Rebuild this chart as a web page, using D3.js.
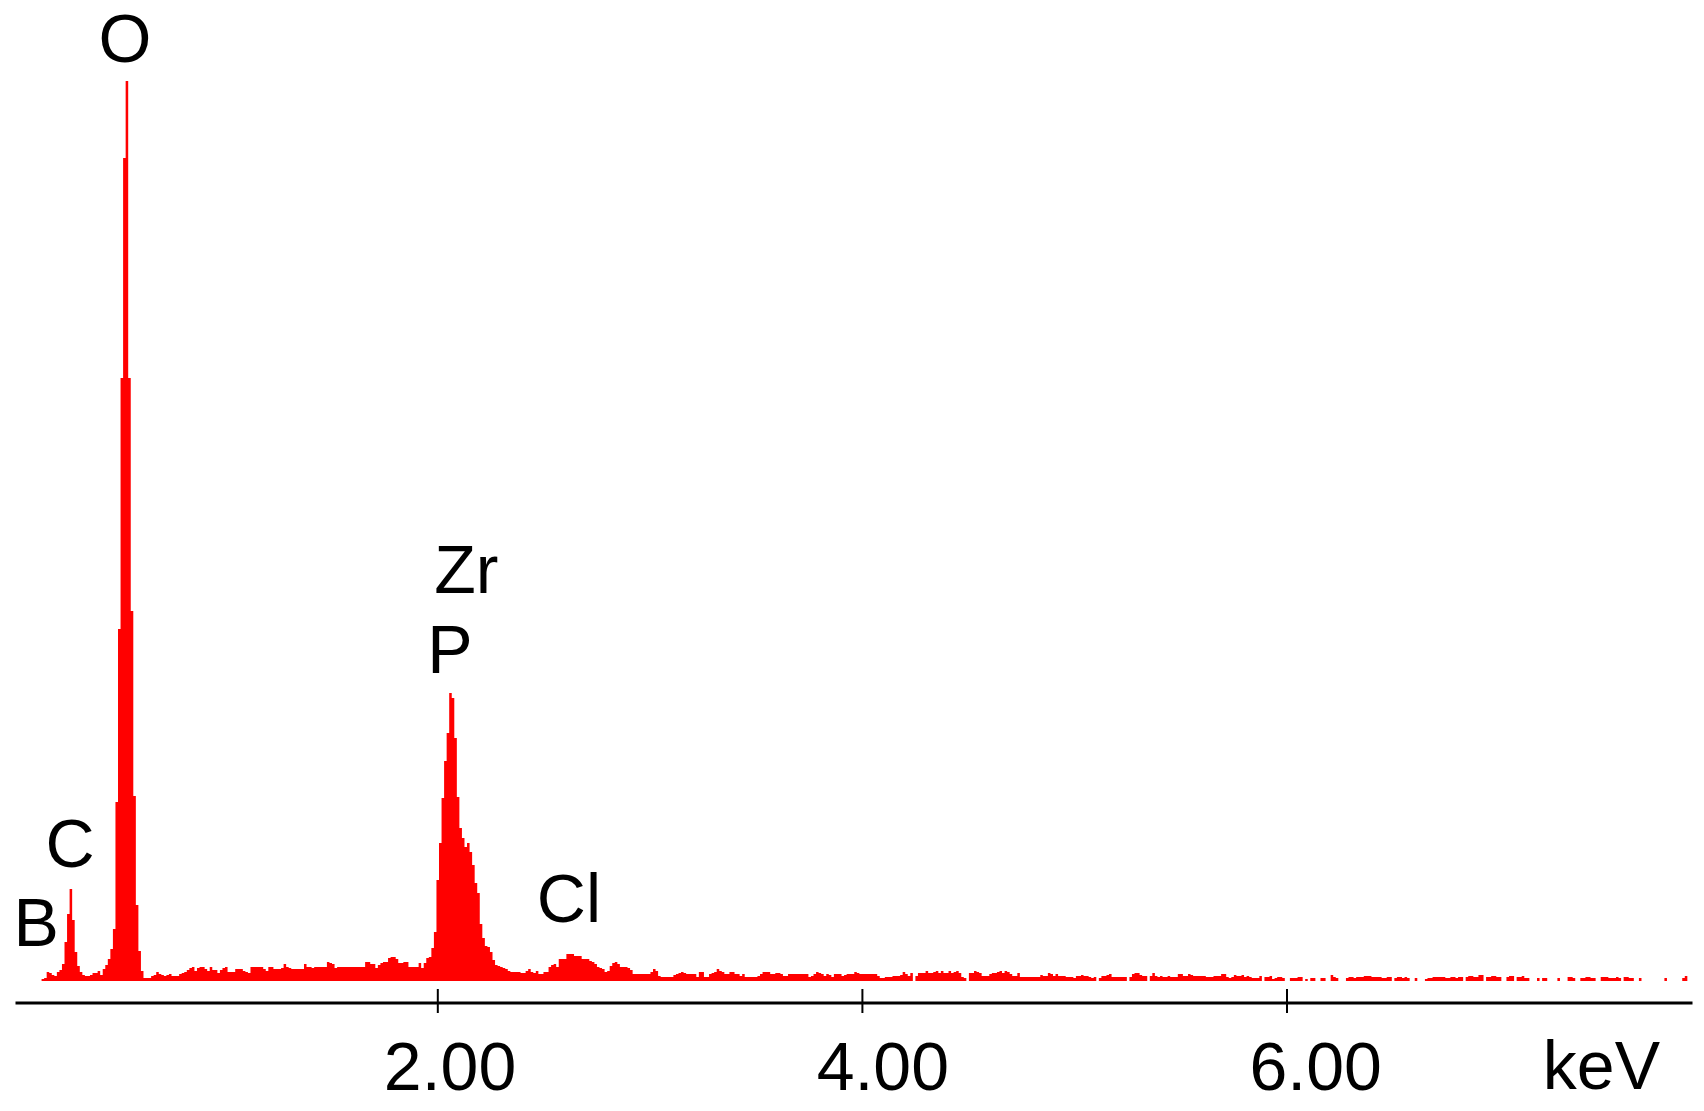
<!DOCTYPE html>
<html>
<head>
<meta charset="utf-8">
<script src="https://cdnjs.cloudflare.com/ajax/libs/d3/7.8.5/d3.min.js"></script>
<style>
  body { margin: 0; background: #fff; }
  text { font-family: "Liberation Sans", Arial, sans-serif; fill: #000; }
</style>
</head>
<body>
<svg width="1704" height="1111"></svg>
<script>
// EDS spectrum, counts per channel
const channelStart = 0.136;   // keV, left edge of first channel
const channelWidth = 0.012;   // keV per channel
const counts = [
  2, 3, 9, 8, 6, 5, 9, 11, 17, 39,            // 0
  67, 92, 61, 29, 15, 9, 6, 5, 5, 6,          // 10
  8, 8, 10, 6, 12, 16, 22, 32, 52, 179,       // 20
  352, 603, 823, 900, 603, 370, 185, 76, 30, 10, // 30
  3, 3, 3, 5, 6, 9, 7, 6, 5, 6,               // 40
  7, 5, 5, 5, 7, 8, 9, 11, 13, 14,            // 50
  10, 13, 14, 14, 12, 10, 14, 11, 11, 8,      // 60
  11, 13, 14, 9, 9, 9, 12, 12, 12, 10,        // 70
  9, 8, 14, 14, 14, 14, 14, 12, 10, 14,       // 80
  14, 12, 12, 12, 13, 17, 14, 13, 12, 12,     // 90
  12, 12, 12, 17, 14, 14, 13, 14, 14, 14,     // 100
  14, 14, 19, 18, 17, 13, 14, 14, 14, 14,     // 110
  14, 14, 14, 14, 14, 14, 14, 19, 19, 17,     // 120
  17, 13, 16, 18, 19, 19, 23, 24, 24, 22,     // 130
  18, 18, 19, 19, 14, 14, 14, 14, 18, 13,     // 140
  18, 23, 24, 33, 49, 101, 138, 183, 220, 248, // 150
  288, 283, 243, 184, 153, 143, 134, 138, 129, 116, // 160
  98, 88, 57, 43, 35, 34, 29, 21, 16, 15,     // 170
  14, 13, 12, 10, 9, 9, 9, 9, 8, 8,           // 180
  10, 12, 9, 8, 10, 7, 7, 9, 9, 14,           // 190
  16, 17, 14, 22, 22, 22, 27, 27, 27, 25,     // 200
  25, 25, 22, 22, 22, 20, 19, 17, 14, 13,     // 210
  12, 9, 10, 15, 18, 19, 17, 14, 14, 14,      // 220
  13, 11, 7, 7, 7, 7, 7, 7, 7, 9,             // 230
  12, 10, 5, 4, 4, 4, 4, 4, 6, 7,             // 240
  8, 9, 8, 7, 7, 7, 7, 4, 9, 9,               // 250
  4, 4, 7, 8, 9, 12, 10, 9, 7, 7,             // 260
  9, 9, 7, 7, 5, 7, 4, 4, 4, 4,               // 270
  4, 5, 7, 9, 9, 9, 7, 7, 8, 8,               // 280
  7, 5, 5, 7, 7, 7, 7, 7, 7, 7,               // 290
  7, 4, 5, 7, 9, 8, 7, 5, 7, 6,               // 300
  4, 7, 7, 7, 5, 6, 7, 7, 7, 9,               // 310
  8, 7, 7, 7, 7, 7, 7, 7, 5, 3,               // 320
  3, 4, 4, 4, 5, 5, 5, 6, 9, 7,               // 330
  5, 8, 0, 5, 8, 8, 8, 10, 8, 8,              // 340
  9, 10, 8, 10, 8, 8, 10, 8, 9, 10,           // 350
  8, 4, 3, 0, 8, 8, 10, 9, 8, 5,              // 360
  5, 5, 7, 8, 8, 9, 10, 8, 10, 9,             // 370
  7, 5, 5, 8, 4, 4, 4, 4, 4, 4,               // 380
  4, 4, 6, 5, 5, 8, 7, 5, 7, 5,               // 390
  5, 5, 4, 4, 4, 3, 5, 5, 6, 5,               // 400
  5, 4, 3, 4, 0, 3, 5, 5, 6, 7,               // 410
  4, 4, 4, 4, 4, 4, 0, 4, 7, 8,               // 420
  8, 6, 5, 5, 0, 5, 8, 5, 4, 5,               // 430
  4, 4, 5, 4, 4, 4, 7, 7, 5, 5,               // 440
  7, 6, 5, 5, 5, 5, 5, 4, 4, 4,               // 450
  5, 5, 5, 7, 7, 4, 3, 4, 6, 5,               // 460
  5, 6, 4, 5, 4, 3, 3, 3, 5, 0,               // 470
  4, 4, 5, 2, 3, 4, 4, 3, 0, 0,               // 480
  3, 3, 3, 4, 4, 0, 2, 0, 3, 3,               // 490
  0, 0, 3, 3, 0, 0, 6, 4, 3, 0,               // 500
  0, 0, 3, 4, 4, 3, 4, 4, 4, 5,               // 510
  5, 5, 4, 4, 4, 4, 3, 3, 4, 4,               // 520
  0, 3, 4, 4, 3, 4, 3, 0, 0, 3,               // 530
  0, 0, 0, 2, 3, 3, 4, 4, 4, 4,               // 540
  4, 3, 3, 4, 4, 3, 4, 4, 0, 4,               // 550
  5, 5, 4, 4, 6, 6, 0, 4, 4, 5,               // 560
  5, 4, 4, 0, 0, 4, 5, 5, 0, 4,               // 570
  4, 5, 3, 3, 0, 0, 0, 3, 0, 3,               // 580
  3, 0, 0, 0, 0, 3, 0, 0, 0, 4,               // 590
  4, 3, 0, 0, 3, 3, 4, 4, 3, 3,               // 600
  0, 0, 4, 4, 4, 3, 3, 3, 4, 3,               // 610
  0, 4, 4, 3, 3, 0, 0, 3, 0, 0,               // 620
  0, 0, 0, 0, 0, 0, 0, 3, 0, 0,               // 630
  0, 0, 0, 0, 3, 5                            // 640
];

// axis ticks (keV)
const tickValues = [2, 4, 6];
const tickLabels = ["2.00", "4.00", "6.00"];
const unitLabel = "keV";

// element markers: name, line energy (keV), label level (counts)
const peakNames = ["B", "C", "O", "P", "Zr", "Cl"];
const peakKeV = [0.110, 0.270, 0.529, 2.060, 2.137, 2.620];
const peakLabelCounts = [35, 114, 919, 308, 388, 59];

const svg = d3.select("svg");
const fontSize = 68;

const x = d3.scaleLinear().domain([0.0108, 7.91]).range([15, 1692]);
const y = d3.scaleLinear().domain([0, 900]).range([981, 81]);
// tick labels in the original sit a little right of their ticks, more so further out
const xLabel = x.copy().range([19.1, 1728.4]);
const axisY = 1002.5;

// spectrum as a stepped area
const pts = counts.map((c, i) => [channelStart + i * channelWidth, c]);
pts.push([channelStart + counts.length * channelWidth, counts[counts.length - 1]]);

const area = d3.area()
  .x(d => x(d[0]))
  .y0(y(0))
  .y1(d => y(d[1]))
  .curve(d3.curveStepAfter);

svg.append("path")
  .datum(pts)
  .attr("fill", "#ff0000")
  .attr("d", area);

// x axis
const axis = d3.axisBottom(x)
  .tickValues(tickValues)
  .tickSizeOuter(0)
  .tickFormat((d, i) => tickLabels[i]);

const axisG = svg.append("g")
  .attr("transform", `translate(0,${axisY})`)
  .call(axis);

axisG.select(".domain").attr("stroke", "#000").attr("stroke-width", 3);
axisG.selectAll(".tick line")
  .attr("stroke", "#000")
  .attr("stroke-width", 2)
  .attr("y1", -13.5)
  .attr("y2", 10.5);
axisG.selectAll(".tick text")
  .attr("x", d => xLabel(d) - x(d))
  .attr("y", 87)
  .attr("dy", null)
  .style("font-family", '"Liberation Sans", Arial, sans-serif')
  .style("font-size", fontSize + "px")
  .attr("fill", "#000");

svg.append("text")
  .attr("x", x.range()[1] - 32)
  .attr("y", axisY + 86)
  .attr("text-anchor", "end")
  .style("font-size", fontSize + "px")
  .text(unitLabel);

// element labels
svg.selectAll(".peak-label")
  .data(peakNames)
  .join("text")
  .attr("class", "peak-label")
  .attr("x", (d, i) => x(peakKeV[i]))
  .attr("y", (d, i) => y(peakLabelCounts[i]))
  .attr("text-anchor", "middle")
  .style("font-size", fontSize + "px")
  .text(d => d);
</script>
</body>
</html>
